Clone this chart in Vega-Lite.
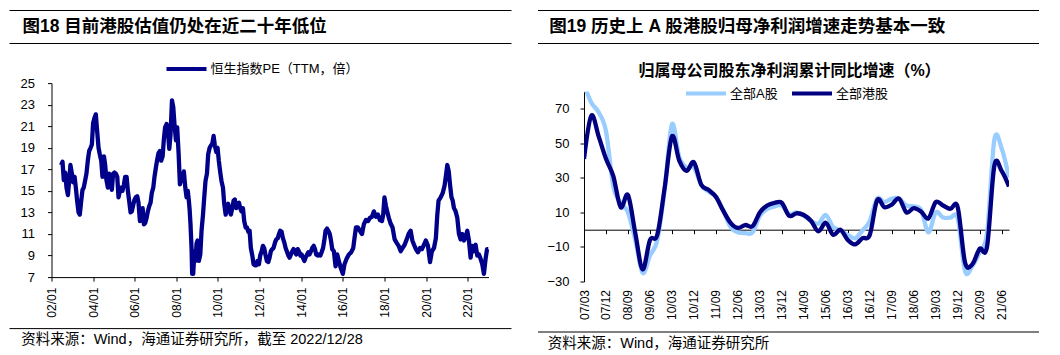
{
  "$schema": "https://vega.github.io/schema/vega-lite/v6.json",
  "padding": {"left": 8.5, "top": 9.5, "right": 0, "bottom": 0},
  "background": "white",
  "config": {
    "font": "Liberation Sans, Noto Sans CJK SC",
    "view": {"stroke": null},
    "axis": {"domainColor": "#000", "tickColor": "#000", "labelColor": "#000", "grid": false, "labelFont": "Liberation Sans, Noto Sans CJK SC"},
    "axisY": {"labelOverlap": false},
    "legend": {"labelColor": "#000", "labelFontSize": 13, "padding": 0, "labelFont": "Liberation Sans, Noto Sans CJK SC"},
    "title": {"color": "#000"}
  },
  "resolve": {"scale": {"color": "independent"}, "legend": {"color": "independent"}},
  "spacing": 24.5,
  "hconcat": [
    {
      "spacing": 17.6,
      "resolve": {"scale": {"color": "independent"}, "legend": {"color": "independent"}},
      "vconcat": [
        {
          "width": 460, "height": 33,
          "data": {"values": [{"label": "图18 目前港股估值仍处在近二十年低位"}]},
          "layer": [
            {"mark": {"type": "rule", "color": "#000", "strokeWidth": 1},
             "encoding": {"x": {"datum": -0.0913, "type": "quantitative", "scale": {"domain": [0, 1], "nice": false, "zero": false}, "axis": null}, "x2": {"datum": 1}, "y": {"datum": 1, "type": "quantitative", "scale": {"domain": [0, 1], "nice": false}, "axis": null}}},
            {"mark": {"type": "rule", "color": "#000", "strokeWidth": 1},
             "encoding": {"x": {"datum": -0.0913, "type": "quantitative"}, "x2": {"datum": 1}, "y": {"datum": 0, "type": "quantitative"}}},
            {"mark": {"type": "text", "align": "left", "baseline": "middle", "fontSize": 17.5, "fontWeight": "bold", "color": "#000"},
             "encoding": {"x": {"datum": -0.063, "type": "quantitative"}, "y": {"datum": 0.5, "type": "quantitative"}, "text": {"field": "label"}}}
          ]
        },
        {
          "spacing": 9.5,
          "resolve": {"scale": {"color": "independent"}, "legend": {"color": "independent"}},
          "vconcat": [
            {
              "width": 437, "height": 194,
              "data": {"values": [
                {"t":2002.46,"v":17.4},{"t":2002.53,"v":17.7},{"t":2002.59,"v":16.0},{"t":2002.66,"v":16.7},{"t":2002.72,"v":15.3},{"t":2002.79,"v":14.6},{"t":2002.85,"v":16.0},{"t":2002.91,"v":17.4},{"t":2002.98,"v":16.6},
                {"t":2003.04,"v":15.8},{"t":2003.11,"v":16.3},{"t":2003.17,"v":15.3},{"t":2003.23,"v":14.1},{"t":2003.30,"v":13.0},{"t":2003.36,"v":12.8},{"t":2003.43,"v":14.1},{"t":2003.49,"v":15.1},{"t":2003.55,"v":15.3},{"t":2003.62,"v":16.0},{"t":2003.68,"v":16.6},{"t":2003.75,"v":17.9},{"t":2003.81,"v":18.7},{"t":2003.88,"v":19.0},{"t":2003.94,"v":19.3},
                {"t":2004.00,"v":21.3},{"t":2004.07,"v":21.8},{"t":2004.13,"v":22.1},{"t":2004.20,"v":20.4},{"t":2004.26,"v":19.0},{"t":2004.32,"v":18.4},{"t":2004.39,"v":17.8},{"t":2004.45,"v":16.3},{"t":2004.52,"v":18.2},{"t":2004.58,"v":17.4},{"t":2004.64,"v":16.0},{"t":2004.71,"v":15.3},{"t":2004.77,"v":16.6},{"t":2004.84,"v":16.0},{"t":2004.90,"v":15.1},{"t":2004.96,"v":16.6},
                {"t":2005.03,"v":16.7},{"t":2005.09,"v":16.6},{"t":2005.16,"v":16.3},{"t":2005.22,"v":14.4},{"t":2005.29,"v":15.0},{"t":2005.35,"v":15.3},{"t":2005.41,"v":15.0},{"t":2005.48,"v":15.6},{"t":2005.54,"v":16.3},{"t":2005.61,"v":16.3},{"t":2005.67,"v":15.0},{"t":2005.73,"v":14.1},{"t":2005.80,"v":13.0},{"t":2005.86,"v":13.1},{"t":2005.93,"v":13.7},{"t":2005.99,"v":14.2},
                {"t":2006.05,"v":14.4},{"t":2006.12,"v":14.5},{"t":2006.18,"v":13.9},{"t":2006.25,"v":12.2},{"t":2006.31,"v":12.5},{"t":2006.38,"v":13.4},{"t":2006.44,"v":11.9},{"t":2006.50,"v":12.0},{"t":2006.57,"v":12.5},{"t":2006.63,"v":13.1},{"t":2006.70,"v":13.6},{"t":2006.76,"v":13.9},{"t":2006.82,"v":14.8},{"t":2006.89,"v":15.3},{"t":2006.95,"v":16.3},
                {"t":2007.02,"v":17.2},{"t":2007.08,"v":17.9},{"t":2007.14,"v":18.5},{"t":2007.21,"v":18.7},{"t":2007.27,"v":17.8},{"t":2007.34,"v":18.2},{"t":2007.40,"v":19.8},{"t":2007.46,"v":20.9},{"t":2007.53,"v":21.2},{"t":2007.59,"v":20.6},{"t":2007.66,"v":18.9},{"t":2007.72,"v":20.2},{"t":2007.79,"v":23.4},{"t":2007.85,"v":22.8},{"t":2007.91,"v":21.2},{"t":2007.98,"v":19.7},
                {"t":2008.04,"v":20.9},{"t":2008.11,"v":18.4},{"t":2008.17,"v":15.6},{"t":2008.23,"v":16.5},{"t":2008.30,"v":15.9},{"t":2008.36,"v":16.8},{"t":2008.43,"v":15.3},{"t":2008.49,"v":14.4},{"t":2008.55,"v":15.0},{"t":2008.60,"v":14.1},{"t":2008.64,"v":13.2},{"t":2008.68,"v":11.9},{"t":2008.73,"v":9.7},{"t":2008.76,"v":7.3},{"t":2008.81,"v":7.3},{"t":2008.87,"v":9.4},{"t":2008.92,"v":8.5},{"t":2008.97,"v":10.1},
                {"t":2009.02,"v":10.4},{"t":2009.08,"v":8.5},{"t":2009.15,"v":9.1},{"t":2009.21,"v":11.3},{"t":2009.28,"v":12.8},{"t":2009.34,"v":14.4},{"t":2009.40,"v":15.9},{"t":2009.47,"v":16.6},{"t":2009.53,"v":18.4},{"t":2009.60,"v":19.0},{"t":2009.66,"v":19.2},{"t":2009.73,"v":19.4},{"t":2009.79,"v":20.1},{"t":2009.85,"v":19.2},{"t":2009.92,"v":18.6},{"t":2009.98,"v":19.0},
                {"t":2010.04,"v":17.8},{"t":2010.11,"v":16.7},{"t":2010.17,"v":15.9},{"t":2010.24,"v":15.3},{"t":2010.30,"v":13.8},{"t":2010.37,"v":12.8},{"t":2010.43,"v":13.6},{"t":2010.49,"v":13.8},{"t":2010.56,"v":13.1},{"t":2010.62,"v":12.8},{"t":2010.69,"v":13.4},{"t":2010.75,"v":14.1},{"t":2010.81,"v":14.2},{"t":2010.88,"v":13.4},{"t":2010.94,"v":13.8},
                {"t":2011.01,"v":13.9},{"t":2011.07,"v":13.4},{"t":2011.13,"v":13.1},{"t":2011.20,"v":13.4},{"t":2011.26,"v":12.2},{"t":2011.33,"v":11.6},{"t":2011.39,"v":11.6},{"t":2011.46,"v":11.2},{"t":2011.52,"v":11.3},{"t":2011.58,"v":9.7},{"t":2011.65,"v":9.0},{"t":2011.71,"v":8.2},{"t":2011.78,"v":8.1},{"t":2011.84,"v":8.1},{"t":2011.90,"v":8.5},{"t":2011.97,"v":8.2},
                {"t":2012.03,"v":9.0},{"t":2012.10,"v":9.4},{"t":2012.16,"v":9.9},{"t":2012.22,"v":9.7},{"t":2012.29,"v":9.0},{"t":2012.35,"v":8.5},{"t":2012.42,"v":8.4},{"t":2012.48,"v":8.8},{"t":2012.54,"v":9.4},{"t":2012.61,"v":9.6},{"t":2012.67,"v":9.7},{"t":2012.74,"v":10.2},{"t":2012.80,"v":10.5},{"t":2012.87,"v":10.6},{"t":2012.93,"v":11.0},{"t":2012.99,"v":11.3},
                {"t":2013.06,"v":11.2},{"t":2013.12,"v":10.6},{"t":2013.19,"v":10.2},{"t":2013.25,"v":9.7},{"t":2013.31,"v":9.4},{"t":2013.38,"v":9.0},{"t":2013.44,"v":8.8},{"t":2013.51,"v":9.1},{"t":2013.57,"v":9.4},{"t":2013.63,"v":9.6},{"t":2013.70,"v":9.4},{"t":2013.76,"v":9.1},{"t":2013.83,"v":9.6},{"t":2013.89,"v":9.4},{"t":2013.96,"v":9.0},
                {"t":2014.02,"v":9.1},{"t":2014.08,"v":8.8},{"t":2014.15,"v":8.5},{"t":2014.21,"v":8.8},{"t":2014.28,"v":9.1},{"t":2014.34,"v":9.3},{"t":2014.40,"v":9.1},{"t":2014.47,"v":9.4},{"t":2014.53,"v":9.7},{"t":2014.60,"v":9.9},{"t":2014.66,"v":9.6},{"t":2014.72,"v":9.1},{"t":2014.79,"v":9.0},{"t":2014.85,"v":9.1},{"t":2014.92,"v":9.0},{"t":2014.98,"v":9.3},
                {"t":2015.05,"v":9.7},{"t":2015.11,"v":10.4},{"t":2015.17,"v":11.3},{"t":2015.24,"v":11.5},{"t":2015.30,"v":11.3},{"t":2015.37,"v":11.0},{"t":2015.43,"v":10.4},{"t":2015.49,"v":9.6},{"t":2015.57,"v":9.4},{"t":2015.65,"v":8.0},{"t":2015.73,"v":9.1},{"t":2015.81,"v":8.5},{"t":2015.89,"v":7.9},
                {"t":2016.00,"v":7.3},{"t":2016.08,"v":8.2},{"t":2016.18,"v":8.7},{"t":2016.29,"v":9.1},{"t":2016.40,"v":9.3},{"t":2016.50,"v":9.7},{"t":2016.56,"v":10.6},{"t":2016.63,"v":11.6},{"t":2016.72,"v":11.6},{"t":2016.82,"v":11.3},{"t":2016.92,"v":11.0},
                {"t":2017.01,"v":11.9},{"t":2017.11,"v":12.3},{"t":2017.21,"v":12.2},{"t":2017.30,"v":12.5},{"t":2017.40,"v":12.6},{"t":2017.49,"v":13.1},{"t":2017.59,"v":12.6},{"t":2017.69,"v":12.8},{"t":2017.78,"v":12.3},{"t":2017.88,"v":12.2},{"t":2017.94,"v":12.8},
                {"t":2018.00,"v":14.4},{"t":2018.07,"v":13.6},{"t":2018.13,"v":13.1},{"t":2018.21,"v":12.5},{"t":2018.29,"v":12.0},{"t":2018.39,"v":11.6},{"t":2018.49,"v":10.5},{"t":2018.58,"v":10.2},{"t":2018.68,"v":9.9},{"t":2018.78,"v":9.4},{"t":2018.87,"v":9.7},{"t":2018.97,"v":10.0},
                {"t":2019.07,"v":10.5},{"t":2019.16,"v":11.0},{"t":2019.26,"v":11.3},{"t":2019.34,"v":10.4},{"t":2019.42,"v":10.0},{"t":2019.51,"v":9.6},{"t":2019.61,"v":9.3},{"t":2019.71,"v":9.7},{"t":2019.80,"v":9.6},{"t":2019.90,"v":10.0},{"t":2019.99,"v":10.4},
                {"t":2020.09,"v":9.9},{"t":2020.19,"v":8.4},{"t":2020.28,"v":9.4},{"t":2020.38,"v":9.7},{"t":2020.47,"v":10.6},{"t":2020.54,"v":12.8},{"t":2020.60,"v":14.1},{"t":2020.70,"v":14.4},{"t":2020.80,"v":14.8},{"t":2020.89,"v":15.5},{"t":2020.96,"v":16.5},
                {"t":2021.02,"v":17.4},{"t":2021.09,"v":16.8},{"t":2021.15,"v":15.6},{"t":2021.22,"v":14.4},{"t":2021.28,"v":14.1},{"t":2021.34,"v":13.4},{"t":2021.42,"v":13.1},{"t":2021.50,"v":12.5},{"t":2021.58,"v":11.0},{"t":2021.66,"v":10.5},{"t":2021.74,"v":11.0},{"t":2021.82,"v":10.4},{"t":2021.90,"v":10.7},{"t":2021.98,"v":11.3},
                {"t":2022.06,"v":10.4},{"t":2022.14,"v":8.8},{"t":2022.22,"v":9.9},{"t":2022.30,"v":9.4},{"t":2022.38,"v":10.0},{"t":2022.46,"v":9.0},{"t":2022.54,"v":9.1},{"t":2022.62,"v":8.7},{"t":2022.70,"v":8.2},{"t":2022.78,"v":7.3},{"t":2022.86,"v":8.7},{"t":2022.93,"v":9.6},{"t":2022.99,"v":9.6}
              ]},
              "mark": {"type": "line", "strokeWidth": 4.3, "strokeJoin": "round"},
              "encoding": {
                "x": {"field": "t", "type": "quantitative", "title": null,
                  "scale": {"domain": [2002, 2023], "nice": false, "zero": false},
                  "axis": {"values": [2002, 2004, 2006, 2008, 2010, 2012, 2014, 2016, 2018, 2020, 2022], "labelExpr": "slice(toString(datum.value), 2) + '/01'", "labelAngle": 270, "labelFlush": false, "labelOverlap": false, "labelBound": false, "tickSize": 4, "labelPadding": 6, "labelFontSize": 12, "minExtent": 40, "maxExtent": 40, "title": null}},
                "y": {"field": "v", "type": "quantitative", "title": null,
                  "scale": {"domain": [7, 25], "nice": false, "zero": false},
                  "axis": {"values": [7, 9, 11, 13, 15, 17, 19, 21, 23, 25], "labelOverlap": false, "tickSize": 4, "labelPadding": 13, "labelFontSize": 13, "minExtent": 42, "maxExtent": 42, "title": null}},
                "color": {"datum": "恒生指数PE（TTM，倍）", "scale": {"domain": ["恒生指数PE（TTM，倍）"], "range": ["#00008B"]},
                  "legend": {"orient": "none", "legendX": 115, "legendY": -21, "title": null, "symbolType": "M-4,0H4", "symbolSize": 100, "symbolStrokeWidth": 4, "symbolOffset": 13, "labelOffset": 17, "labelFontSize": 13}}
              }
            },
            {
              "width": 460, "height": 24,
              "data": {"values": [{"note": "资料来源：Wind，海通证券研究所，截至 2022/12/28"}]},
              "layer": [
                {"mark": {"type": "rule", "color": "#000", "strokeWidth": 1},
                 "encoding": {"x": {"datum": -0.0913, "type": "quantitative", "scale": {"domain": [0, 1], "nice": false, "zero": false}, "axis": null}, "x2": {"datum": 1}, "y": {"datum": 1, "type": "quantitative", "scale": {"domain": [0, 1], "nice": false}, "axis": null}}},
                {"mark": {"type": "text", "align": "left", "baseline": "middle", "fontSize": 14.5, "color": "#000"},
                 "encoding": {"x": {"datum": -0.066, "type": "quantitative"}, "y": {"datum": 0.51, "type": "quantitative"}, "text": {"field": "note"}}}
              ]
            }
          ]
        }
      ]
    },
    {
      "spacing": 18,
      "resolve": {"scale": {"color": "independent"}, "legend": {"color": "independent"}},
      "vconcat": [
        {
          "width": 455, "height": 33,
          "data": {"values": [{"label": "图19 历史上 A 股港股归母净利润增速走势基本一致"}]},
          "layer": [
            {"mark": {"type": "rule", "color": "#000", "strokeWidth": 1},
             "encoding": {"x": {"datum": -0.1011, "type": "quantitative", "scale": {"domain": [0, 1], "nice": false, "zero": false}, "axis": null}, "x2": {"datum": 1}, "y": {"datum": 1, "type": "quantitative", "scale": {"domain": [0, 1], "nice": false}, "axis": null}}},
            {"mark": {"type": "rule", "color": "#000", "strokeWidth": 1},
             "encoding": {"x": {"datum": -0.1011, "type": "quantitative"}, "x2": {"datum": 1}, "y": {"datum": 0, "type": "quantitative"}}},
            {"mark": {"type": "text", "align": "left", "baseline": "middle", "fontSize": 17.5, "fontWeight": "bold", "color": "#000"},
             "encoding": {"x": {"datum": -0.0763, "type": "quantitative"}, "y": {"datum": 0.5, "type": "quantitative"}, "text": {"field": "label"}}}
          ]
        },
        {
          "spacing": 9.5,
          "resolve": {"scale": {"color": "independent"}, "legend": {"color": "independent"}},
          "vconcat": [
            {
              "width": 425, "height": 190,
              "title": {"text": "归属母公司股东净利润累计同比增速（%）", "fontSize": 16, "fontWeight": "bold", "anchor": "middle", "frame": "group", "dx": -7, "offset": 8, "color": "#000"},
              "data": {"values": [
                {"q":"07/03","a":84,"h":41},{"q":"07/06","a":73.5,"h":66},{"q":"07/09","a":68,"h":54},{"q":"07/12","a":57,"h":41},
                {"q":"08/03","a":25,"h":31},{"q":"08/06","a":15.5,"h":13},{"q":"08/09","a":10,"h":20},{"q":"08/12","a":-6,"h":-2},
                {"q":"09/03","a":-25,"h":-23},{"q":"09/06","a":-15,"h":-6},{"q":"09/09","a":-6,"h":-3},{"q":"09/12","a":23,"h":24},
                {"q":"10/03","a":61,"h":54},{"q":"10/06","a":42,"h":40},{"q":"10/09","a":36,"h":34},{"q":"10/12","a":36,"h":39},
                {"q":"11/03","a":26,"h":26},{"q":"11/06","a":22,"h":23},{"q":"11/09","a":19,"h":19},{"q":"11/12","a":11,"h":11},
                {"q":"12/03","a":1.5,"h":4},{"q":"12/06","a":-1.5,"h":1},{"q":"12/09","a":-2,"h":2.7},{"q":"12/12","a":-1.5,"h":2},
                {"q":"13/03","a":8,"h":10},{"q":"13/06","a":12,"h":14},{"q":"13/09","a":13.5,"h":15.5},{"q":"13/12","a":14,"h":15.5},
                {"q":"14/03","a":9,"h":8},{"q":"14/06","a":10,"h":9.5},{"q":"14/09","a":8,"h":8.5},{"q":"14/12","a":5,"h":5},
                {"q":"15/03","a":3.5,"h":-1},{"q":"15/06","a":8.5,"h":4},{"q":"15/09","a":1.5,"h":-3},{"q":"15/12","a":-0.5,"h":0},
                {"q":"16/03","a":-3,"h":-6},{"q":"16/06","a":-5,"h":-8.5},{"q":"16/09","a":-0.5,"h":-5},{"q":"16/12","a":5,"h":-3},
                {"q":"17/03","a":18,"h":17},{"q":"17/06","a":16,"h":13},{"q":"17/09","a":18,"h":14.5},{"q":"17/12","a":18,"h":18},
                {"q":"18/03","a":14,"h":10},{"q":"18/06","a":13.5,"h":12.5},{"q":"18/09","a":11.5,"h":10.5},{"q":"18/12","a":-1.5,"h":6.5},
                {"q":"19/03","a":10,"h":16},{"q":"19/06","a":7,"h":14},{"q":"19/09","a":7,"h":12},{"q":"19/12","a":6.5,"h":13},
                {"q":"20/03","a":-24,"h":-19},{"q":"20/06","a":-21,"h":-20},{"q":"20/09","a":-13,"h":-11},{"q":"20/12","a":-2,"h":-10},
                {"q":"21/03","a":52,"h":37},{"q":"21/06","a":47,"h":34},{"q":"21/09","a":30,"h":25}
              ]},
              "layer": [
                {
                  "transform": [{"fold": ["a", "h"], "as": ["k", "v"]}],
                  "mark": {"type": "line", "interpolate": "cardinal", "strokeWidth": 4.3, "clip": true},
                  "encoding": {
                    "x": {"field": "q", "type": "ordinal", "sort": null, "title": null,
                      "scale": {"type": "point", "padding": 0},
                      "axis": {"orient": "bottom", "values": ["07/03","07/12","08/09","09/06","10/03","10/12","11/09","12/06","13/03","13/12","14/09","15/06","16/03","16/12","17/09","18/06","19/03","19/12","20/09","21/06"], "ticks": false, "tickSize": 0, "domain": false, "labelAngle": 270, "labelOverlap": false, "labelPadding": 8, "labelFontSize": 12, "minExtent": 40, "maxExtent": 40, "title": null}},
                    "y": {"field": "v", "type": "quantitative", "title": null,
                      "scale": {"domain": [-30, 80], "nice": false, "zero": false},
                      "axis": {"values": [-30, -10, 10, 30, 50, 70], "labelOverlap": false, "tickSize": 4, "labelPadding": 11, "labelFontSize": 13, "minExtent": 46, "maxExtent": 46, "title": null}},
                    "color": {"field": "k", "type": "nominal", "scale": {"domain": ["a", "h"], "range": ["#99CCFF", "#000080"]},
                      "legend": {"orient": "none", "legendX": 102, "legendY": -5, "direction": "horizontal", "title": null, "labelExpr": "datum.label == 'a' ? '全部A股' : '全部港股'", "symbolType": "M-4,0H4", "symbolSize": 100, "symbolStrokeWidth": 4, "symbolOffset": 13, "labelOffset": 17, "labelFontSize": 13, "columnPadding": 6}}
                  }
                },
                {
                  "mark": {"type": "point", "opacity": 0},
                  "encoding": {
                    "x": {"field": "q", "type": "ordinal", "sort": null, "title": null,
                      "axis": {"orient": "bottom", "offset": -51.8, "values": ["07/03","07/12","08/09","09/06","10/03","10/12","11/09","12/06","13/03","13/12","14/09","15/06","16/03","16/12","17/09","18/06","19/03","19/12","20/09","21/06"], "labels": false, "ticks": true, "tickSize": 4, "domain": true, "title": null}}
                  }
                }
              ],
              "resolve": {"axis": {"x": "independent"}}
            },
            {
              "width": 455, "height": 24,
              "data": {"values": [{"note": "资料来源：Wind，海通证券研究所"}]},
              "layer": [
                {"mark": {"type": "rule", "color": "#000", "strokeWidth": 1},
                 "encoding": {"x": {"datum": -0.1011, "type": "quantitative", "scale": {"domain": [0, 1], "nice": false, "zero": false}, "axis": null}, "x2": {"datum": 1}, "y": {"datum": 1, "type": "quantitative", "scale": {"domain": [0, 1], "nice": false}, "axis": null}}},
                {"mark": {"type": "text", "align": "left", "baseline": "middle", "fontSize": 14.5, "color": "#000"},
                 "encoding": {"x": {"datum": -0.0798, "type": "quantitative"}, "y": {"datum": 0.51, "type": "quantitative"}, "text": {"field": "note"}}}
              ]
            }
          ]
        }
      ]
    }
  ]
}
